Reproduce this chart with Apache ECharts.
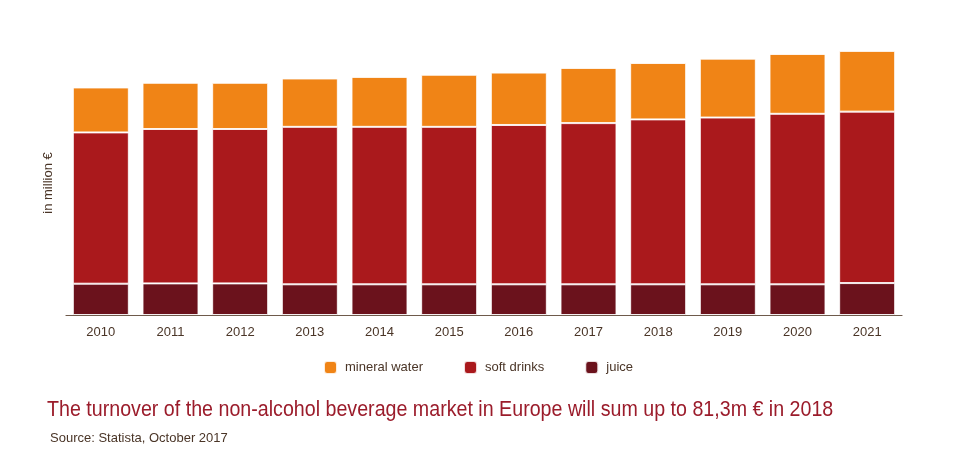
<!DOCTYPE html>
<html>
<head>
<meta charset="utf-8">
<script src="https://cdn.jsdelivr.net/npm/echarts@6/dist/echarts.min.js"></script>
<style>html,body{margin:0;padding:0;background:#fff;}#c{width:961px;height:461px;}</style>
</head>
<body>
<div id="c"></div>
<script>
var years = ['2010','2011','2012','2013','2014','2015','2016','2017','2018','2019','2020','2021'];
var juice = [10.1, 10.2, 10.2, 9.9, 9.9, 9.9, 9.9, 9.9, 9.9, 9.9, 9.9, 10.3];
var softDrinks = [48.8, 49.8, 49.8, 50.8, 50.8, 50.8, 51.4, 52.0, 53.2, 53.8, 55.0, 55.3];
var mineralWater = [14.5, 14.9, 14.9, 15.6, 16.1, 16.8, 16.9, 17.8, 18.2, 19.0, 19.3, 19.6];
var seriesNames = ['mineral water', 'soft drinks', 'juice'];
var titleText = 'The turnover of the non-alcohol beverage market in Europe will sum up to 81,3m \u20ac in 2018';
var sourceText = 'Source: Statista, October 2017';
var yName = 'in million \u20ac';

var chart = echarts.init(document.getElementById('c'), null, {renderer: 'canvas'});
var textColor = '#4a3527';
var fontFam = '"Liberation Sans", Arial, sans-serif';
function barStyle(color) {
  return {color: color, borderColor: 'rgba(255,255,255,0.85)', borderWidth: 1};
}
chart.setOption({
  animation: false,
  backgroundColor: '#ffffff',
  grid: {left: 66, right: 59, top: 36, height: 279},
  legend: {
    data: seriesNames,
    left: 318, top: 355,
    itemWidth: 13, itemHeight: 13, itemGap: 40,
    icon: 'roundRect',
    textStyle: {color: textColor, fontSize: 13, fontFamily: fontFam, padding: [0, 0, 0, 3]}
  },
  xAxis: {
    type: 'category',
    data: years,
    axisLine: {lineStyle: {color: '#6e5a4b', width: 1.2}},
    axisTick: {show: false},
    axisLabel: {color: textColor, fontSize: 13, fontFamily: fontFam, margin: 11}
  },
  yAxis: {
    type: 'value', min: 0, max: 90,
    show: false,
    splitLine: {show: false}
  },
  series: [
    {name: 'juice', type: 'bar', stack: 'total', barWidth: 56, data: juice, itemStyle: barStyle('#6b121c')},
    {name: 'soft drinks', type: 'bar', stack: 'total', barWidth: 56, data: softDrinks, itemStyle: barStyle('#aa191c')},
    {name: 'mineral water', type: 'bar', stack: 'total', barWidth: 56, data: mineralWater, itemStyle: barStyle('#f08416')}
  ],
  graphic: [
    {type: 'text', rotation: Math.PI / 2, position: [48, 183],
      style: {text: yName, fill: textColor, font: '13px ' + fontFam, textAlign: 'center', textVerticalAlign: 'middle', x: 0, y: 0}},
    {type: 'text', position: [47, 410], scaleX: 0.893, scaleY: 1,
      style: {text: titleText, fill: '#9b1c2b', font: '22px ' + fontFam, textAlign: 'left', textVerticalAlign: 'middle'}},
    {type: 'text', position: [50, 438],
      style: {text: sourceText, fill: textColor, font: '13px ' + fontFam, textAlign: 'left', textVerticalAlign: 'middle'}}
  ]
});
</script>
</body>
</html>
